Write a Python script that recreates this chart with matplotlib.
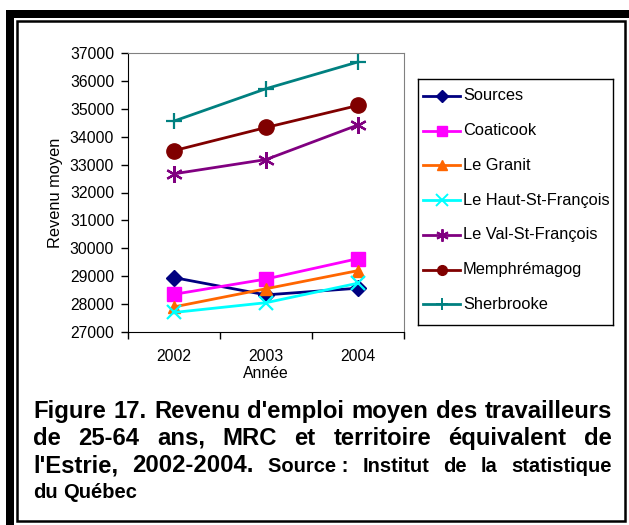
import matplotlib
matplotlib.use("Agg")
import matplotlib.pyplot as plt
from matplotlib.patches import Rectangle

# === DATA ===
YEARS = ["2002", "2003", "2004"]
SOURCES = [28950, 28330, 28570]
COATICOOK = [28350, 28900, 29630]
LE_GRANIT = [27900, 28550, 29200]
HAUT_ST_FRANCOIS = [27700, 28050, 28750]
VAL_ST_FRANCOIS = [32670, 33180, 34420]
MEMPHREMAGOG = [33500, 34330, 35120]
SHERBROOKE = [34560, 35720, 36680]

NAMES = ["Sources", "Coaticook", "Le Granit", "Le Haut-St-François",
         "Le Val-St-François", "Memphrémagog", "Sherbrooke"]
SERIES = [SOURCES, COATICOOK, LE_GRANIT, HAUT_ST_FRANCOIS,
          VAL_ST_FRANCOIS, MEMPHREMAGOG, SHERBROOKE]

# === STYLE ===
COLORS = ["#000080", "#FF00FF", "#FF6600", "#00FFFF", "#800080", "#800000", "#008080"]
MARKERS = ["D", "s", "^", "x", (6, 2, 0), "o", "+"]
MSIZES = [8, 10, 9, 10, 12, 11, 12]
LEG_MSIZES = [6, 7, 7, 8, 9, 7, 9]

W, H = 629, 525
plt.rcParams["font.family"] = ["Liberation Sans", "DejaVu Sans"]
FS = 11.3
LEG_FS = 11.8

fig = plt.figure(figsize=(W / 100, H / 100), dpi=100)


def px(x0, y0, x1, y1):
    # pixel box (top-left origin) -> figure fraction rect
    return [x0 / W, 1 - y1 / H, (x1 - x0) / W, (y1 - y0) / H]


# === frame ===
fig.patches.append(Rectangle((6 / W, 0), 8 / W, 1 - 10 / H, transform=fig.transFigure,
                             color="black", lw=0))
fig.patches.append(Rectangle((6 / W, 1 - 18 / H), 1, 8 / H, transform=fig.transFigure,
                             color="black", lw=0))
fig.patches.append(Rectangle((17 / W, 1 - 521 / H), 608 / W, 500 / H, transform=fig.transFigure,
                             fill=False, ec="black", lw=1.8))

# === main axes ===
ax = fig.add_axes(px(128, 53, 404, 332))
x = list(range(len(YEARS)))
for name, vals, c, m, ms in zip(NAMES, SERIES, COLORS, MARKERS, MSIZES):
    mew = 1.6 if m in ("x", "+") or isinstance(m, tuple) else 1
    ax.plot(x, vals, color=c, lw=2, marker=m, markersize=ms, markeredgewidth=mew,
            markeredgecolor=c, markerfacecolor=c, label=name, clip_on=False)

ax.set_xlim(-0.5, 2.5)
ax.set_ylim(27000, 37000)
ax.set_yticks(range(27000, 37001, 1000))
ax.set_xticks([-0.5, 0.5, 1.5, 2.5])
ax.set_xticklabels([])
ax.set_xticks(x, minor=True)
ax.set_xticklabels(YEARS, minor=True)
ax.tick_params(axis="x", which="minor", length=0, pad=12, labelsize=FS)
ax.tick_params(axis="x", which="major", direction="out", length=5, width=1)
ax.tick_params(axis="y", direction="out", length=5, width=1, pad=5, labelsize=FS)
for s in ("top", "right"):
    ax.spines[s].set_color("#808080")
for s in ("left", "bottom"):
    ax.spines[s].set_color("black")
ax.set_ylabel("Revenu moyen", fontsize=11.8, labelpad=5)
ax.set_xlabel("Année", fontsize=FS, labelpad=2)

# === legend box ===
lg = fig.add_axes(px(418, 79, 613, 325))
lg.set_xlim(0, 195)
lg.set_ylim(246, 0)
lg.set_xticks([])
lg.set_yticks([])
for s in lg.spines.values():
    s.set_color("black")
    s.set_linewidth(1)
for i, (name, c, m, ms) in enumerate(zip(NAMES, COLORS, MARKERS, LEG_MSIZES)):
    yy = 17 + i * 34.7
    mew = 1.4 if m in ("x", "+") or isinstance(m, tuple) else 1
    lg.plot([5, 42], [yy, yy], color=c, lw=2)
    lg.plot([23.5], [yy], marker=m, color=c, markersize=ms, markeredgewidth=mew)
    lg.text(45, yy, name, fontsize=LEG_FS, va="center", ha="left")

# === justified caption ===
BIG, SMALL = 17.2, 14.5
LINES = [
    ([("Figure", BIG), ("17.", BIG), ("Revenu", BIG), ("d'emploi", BIG), ("moyen", BIG),
      ("des", BIG), ("travailleurs", BIG)], True),
    ([("de", BIG), ("25-64", BIG), ("ans,", BIG), ("MRC", BIG), ("et", BIG),
      ("territoire", BIG), ("équivalent", BIG), ("de", BIG)], True),
    ([("l'Estrie,", BIG), ("2002-2004.", BIG), ("Source :", SMALL), ("Institut", SMALL),
      ("de", SMALL), ("la", SMALL), ("statistique", SMALL)], True),
    ([("du", SMALL), ("Québec", SMALL)], False),
]
BASELINES = [418, 445, 472, 498]
LEFT, RIGHT = 33, 612

fig.canvas.draw()
renderer = fig.canvas.get_renderer()
for (words, justify), base in zip(LINES, BASELINES):
    texts = [fig.text(0, 1 - base / H, w, fontsize=s, fontweight="bold", va="baseline",
                      ha="left") for w, s in words]
    widths = [t.get_window_extent(renderer).width for t in texts]
    if justify:
        gap = (RIGHT - LEFT - sum(widths)) / (len(words) - 1)
    else:
        gap = 0.278 * SMALL * 100 / 72
    xpos = LEFT
    for t, wd in zip(texts, widths):
        t.set_x(xpos / W)
        xpos += wd + gap

fig.savefig("out.png", dpi=100)
